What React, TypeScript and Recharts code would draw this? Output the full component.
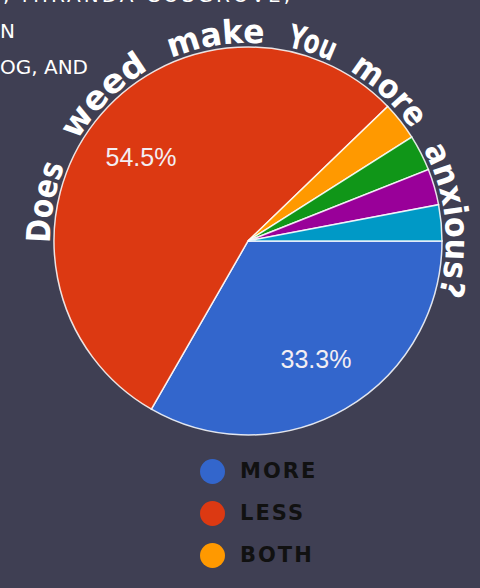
import React from 'react';
import { PieChart, Pie, Cell, Legend } from 'recharts';

const categories = ['MORE', 'LESS', 'BOTH', 'Other A', 'Other B', 'Other C'];
const values = [33.3, 54.5, 3.2, 3.0, 3.0, 3.0];
const colors = ['#3366cc', '#dc3912', '#ff9900', '#109618', '#990099', '#0099c6'];
const legendLabels = ['MORE', 'LESS', 'BOTH'];
const titleWords = ['Does', 'weed', 'make', 'You', 'more', 'anxious?'];
const headerLines = [', MIRANDA COSGROVE,', 'N', 'OG, AND'];

const data = categories.map((name, i) => ({ name, value: values[i] }));

const W = 480;
const H = 588;
const CX = 248;
const CY = 241;
const R = 194;
const BG = '#3f3f53';
const RAD = Math.PI / 180;

// layout of the curved title words along the arc: [startOffset px, length px]
const wordLayout = [
  [0, 79],
  [107, 102],
  [234, 95],
  [352, 47],
  [419, 86],
  [528, 150],
];

const renderLabel = (props: any) => {
  const { cx, cy, midAngle, outerRadius, value } = props;
  if (value < 10) return null;
  const r = outerRadius * 0.7;
  const x = cx + r * Math.cos(-midAngle * RAD);
  const y = cy + r * Math.sin(-midAngle * RAD);
  return (
    <text
      x={x}
      y={y}
      fill="#f3eef3"
      textAnchor="middle"
      dominantBaseline="central"
      fontFamily="'Liberation Sans', Arial, sans-serif"
      fontSize={25}
    >
      {value.toFixed(1)}%
    </text>
  );
};

const renderLegend = () => (
  <div style={{ display: 'flex', flexDirection: 'column' }}>
    {legendLabels.map((l, i) => (
      <div key={l} style={{ display: 'flex', alignItems: 'center', height: 42 }}>
        <div
          style={{
            width: 25,
            height: 25,
            borderRadius: '50%',
            background: colors[i],
          }}
        />
        <span
          style={{
            marginLeft: 15,
            color: '#111',
            fontFamily: "'DejaVu Sans', sans-serif",
            fontWeight: 'bold',
            fontSize: 21,
            letterSpacing: 2,
            lineHeight: '42px',
          }}
        >
          {l}
        </span>
      </div>
    ))}
  </div>
);

const TR = 198;
const endAng = 22 * RAD;
const titlePath = `M ${CX - TR} ${CY + 2} A ${TR} ${TR} 0 1 1 ${CX + TR * Math.cos(endAng)} ${CY + TR * Math.sin(endAng)}`;

export default function App() {
  return (
    <div
      style={{
        position: 'fixed',
        left: 0,
        top: 0,
        width: W,
        height: H,
        background: BG,
        overflow: 'hidden',
      }}
    >
      <PieChart width={W} height={H} margin={{ top: 0, right: 0, bottom: 0, left: 0 }}>
        <Pie
          data={data}
          dataKey="value"
          nameKey="name"
          cx={CX}
          cy={CY}
          outerRadius={R}
          startAngle={0}
          endAngle={-360}
          stroke="#ffffff"
          strokeWidth={1.5}
          strokeOpacity={0.85}
          label={renderLabel}
          labelLine={false}
          isAnimationActive={false}
        >
          {data.map((d, i) => (
            <Cell key={d.name} fill={colors[i]} />
          ))}
        </Pie>
        <Legend
          content={renderLegend}
          wrapperStyle={{ left: 200, top: 450, width: 200, height: 130 }}
        />
      </PieChart>
      <svg
        width={W}
        height={H}
        style={{ position: 'absolute', left: 0, top: 0, pointerEvents: 'none' }}
      >
        <defs>
          <path id="titleArc" d={titlePath} fill="none" />
        </defs>
        {titleWords.map((w, i) => (
          <text
            key={w}
            fill="#ffffff"
            fontFamily="'DejaVu Sans', sans-serif"
            fontWeight="bold"
            fontSize={33}
          >
            <textPath
              href="#titleArc"
              startOffset={wordLayout[i][0]}
              textLength={wordLayout[i][1]}
              lengthAdjust="spacingAndGlyphs"
            >
              {w}
            </textPath>
          </text>
        ))}
        {headerLines.map((t, i) => (
          <text
            key={i}
            x={i === 0 ? 3 : 0}
            y={[2, 38, 74][i]}
            fill="#ffffff"
            fontFamily="'DejaVu Sans', sans-serif"
            fontSize={20}
            {...(i === 0 ? { textLength: 287 } : {})}
          >
            {t}
          </text>
        ))}
      </svg>
    </div>
  );
}
